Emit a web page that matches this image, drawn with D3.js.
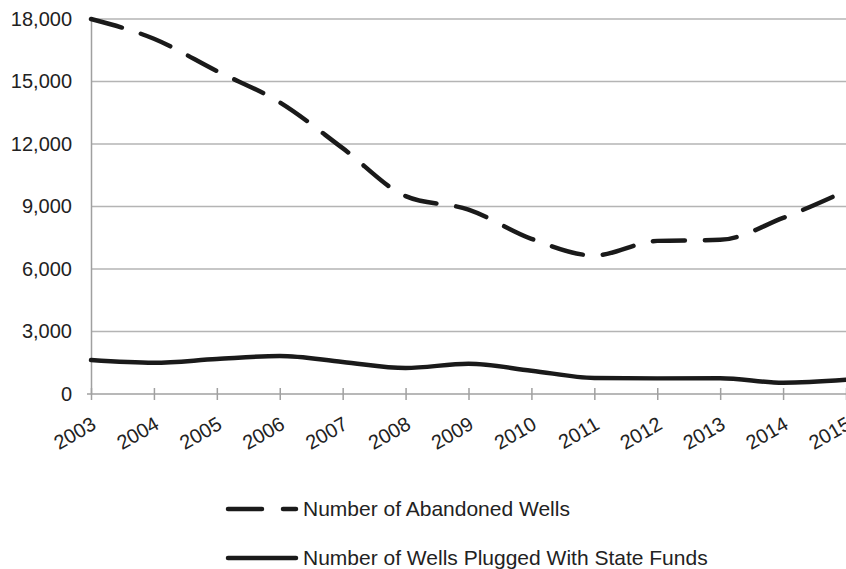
<!DOCTYPE html>
<html>
<head>
<meta charset="utf-8">
<script src="https://cdn.jsdelivr.net/npm/d3@7"></script>
<style>
  body { margin: 0; background: #fff; }
  svg { display: block; font-family: "Liberation Sans", Arial, sans-serif; }
</style>
</head>
<body>
<div id="chart"></div>
<script>
const years = [2003, 2004, 2005, 2006, 2007, 2008, 2009, 2010, 2011, 2012, 2013, 2014, 2015];
const abandonedWells = [18000, 17050, 15500, 14000, 11800, 9500, 8850, 7450, 6650, 7350, 7400, 8450, 9750];
const pluggedWells = [1630, 1500, 1680, 1820, 1540, 1250, 1450, 1120, 770, 750, 760, 540, 680];
const yTicks = [0, 3000, 6000, 9000, 12000, 15000, 18000];
const legendLabels = ["Number of Abandoned Wells", "Number of Wells Plugged With State Funds"];

const width = 846, height = 569;
const margin = {top: 19, right: 0, bottom: 175, left: 91};

const svg = d3.select("#chart").append("svg")
    .attr("width", width)
    .attr("height", height);

const x = d3.scalePoint()
    .domain(years)
    .range([margin.left, width - margin.right]);

const y = d3.scaleLinear()
    .domain([0, 18000])
    .range([height - margin.bottom, margin.top]);

// gridlines
svg.append("g")
    .selectAll("line")
    .data(yTicks.filter(d => d > 0))
    .enter().append("line")
    .attr("x1", margin.left)
    .attr("x2", width)
    .attr("y1", d => y(d))
    .attr("y2", d => y(d))
    .style("stroke", "#b4b4b4")
    .style("stroke-width", 1.5);

// y axis
const yAxis = svg.append("g")
    .attr("transform", `translate(${margin.left},0)`)
    .call(d3.axisLeft(y).tickValues(yTicks).tickSize(0).tickPadding(19).tickFormat(d3.format(",")));
yAxis.select(".domain").style("stroke", "#a0a0a0").style("stroke-width", 1.5);
yAxis.selectAll("text").style("font-size", "20px").style("fill", "#222");

// x axis
const xAxis = svg.append("g")
    .attr("transform", `translate(0,${y(0)})`)
    .call(d3.axisBottom(x).tickSize(6).tickSizeOuter(0));
xAxis.select(".domain")
    .attr("d", `M${margin.left - 4},0H${width}`)
    .style("stroke", "#a0a0a0").style("stroke-width", 1.5);
xAxis.selectAll(".tick line").attr("y1", -6).attr("y2", 6).style("stroke", "#a0a0a0").style("stroke-width", 1.5);
xAxis.selectAll("text")
    .style("font-size", "20px")
    .style("fill", "#222")
    .attr("text-anchor", "end")
    .attr("dy", null)
    .attr("y", 0)
    .attr("transform", "translate(6,34) rotate(-30)");

const line = d3.line()
    .x((d, i) => x(years[i]))
    .y(d => y(d))
    .curve(d3.curveMonotoneX);

svg.append("path")
    .datum(abandonedWells)
    .attr("d", line)
    .style("fill", "none")
    .style("stroke", "#1a1a1a")
    .style("stroke-width", 4.5)
    .style("stroke-linecap", "round")
    .style("stroke-dasharray", "32,20");

svg.append("path")
    .datum(pluggedWells)
    .attr("d", line)
    .style("fill", "none")
    .style("stroke", "#1a1a1a")
    .style("stroke-width", 4.5)
    .style("stroke-linecap", "round");

// legend
const legend = svg.append("g");
const legendY = [509, 558];
legend.selectAll("line")
    .data(legendLabels)
    .enter().append("line")
    .attr("x1", 228)
    .attr("x2", 296)
    .attr("y1", (d, i) => legendY[i])
    .attr("y2", (d, i) => legendY[i])
    .style("stroke", "#1a1a1a")
    .style("stroke-width", 4.5)
    .style("stroke-linecap", "round")
    .style("stroke-dasharray", (d, i) => i === 0 ? "34,21" : null);
legend.selectAll("text")
    .data(legendLabels)
    .enter().append("text")
    .attr("x", 303)
    .attr("y", (d, i) => legendY[i])
    .attr("dy", "0.35em")
    .style("font-size", "21px")
    .style("fill", "#222")
    .text(d => d);
</script>
</body>
</html>
